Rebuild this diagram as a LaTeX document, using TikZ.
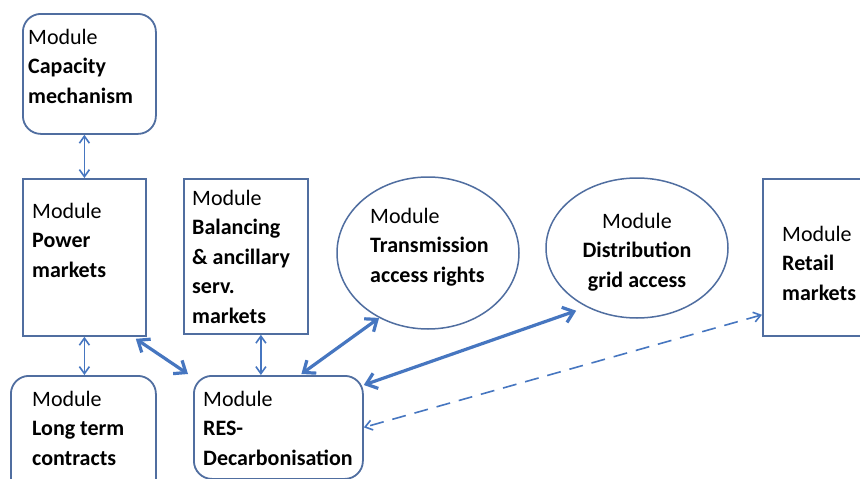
\documentclass[tikz,border=0pt]{standalone}
\usepackage{fontspec}
\setmainfont{Carlito}
\usetikzlibrary{arrows.meta,shapes.geometric}
\definecolor{edgeblue}{RGB}{80,110,160}
\definecolor{linkblue}{RGB}{70,118,192}
\tikzset{
  modbox/.style={draw=edgeblue, line width=1.8pt, fill=white, anchor=north west, inner sep=0pt},
  roundbox/.style={modbox, rounded corners=18pt},
  modoval/.style={draw=edgeblue, line width=1.5pt, ellipse, inner sep=0pt},
  lbl/.style={anchor=north west, align=left, inner sep=0pt, font=\fontsize{22}{29.5}\selectfont},
  clbl/.style={lbl, anchor=north, align=center},
  thinlink/.style={draw=linkblue, line width=1.6pt, {Straight Barb[length=7pt,width=10pt]}-{Straight Barb[length=7pt,width=10pt]}},
  thicklink/.style={draw=linkblue, line width=3.2pt, {Straight Barb[length=10pt,width=16pt]}-{Straight Barb[length=10pt,width=16pt]}},
  dashlink/.style={draw=linkblue, line width=1.6pt, dash pattern=on 14pt off 9pt, {Straight Barb[length=7pt,width=10pt]}-{Straight Barb[length=7pt,width=10pt]}},
}
\begin{document}
\begin{tikzpicture}[x=1pt,y=-1pt]
  \useasboundingbox (0,0) rectangle (860,479);
  \fill[white] (0,0) rectangle (860,479);
  \clip (0,0) rectangle (860,479);

  % module shapes
  \node[roundbox, minimum width=133pt, minimum height=120pt] (cap) at (22,13) {};
  \node[modbox, minimum width=123pt, minimum height=157pt] (pow) at (22,178) {};
  \node[modbox, minimum width=124pt, minimum height=155pt] (bal) at (183,178) {};
  \node[modoval, minimum width=182pt, minimum height=152pt] (tra) at (428,253) {};
  \node[modoval, minimum width=182pt, minimum height=140pt] (dis) at (637,248) {};
  \node[modbox, minimum width=130pt, minimum height=157pt] (ret) at (762,178) {};
  \node[roundbox, minimum width=145pt, minimum height=125pt] (ltc) at (10,375) {};
  \node[roundbox, minimum width=169pt, minimum height=103pt] (res) at (193,375) {};

  % module labels
  \node[lbl] (capt) at (28,29) {Module\\\textbf{Capacity}\\\textbf{mechanism}};
  \node[lbl] (powt) at (32,203) {Module\\\textbf{Power}\\\textbf{markets}};
  \node[lbl] (balt) at (192,190) {Module\\\textbf{Balancing}\\\textbf{\& ancillary}\\\textbf{serv.}\\\textbf{markets}};
  \node[lbl] (trat) at (370,208) {Module\\\textbf{Transmission}\\\textbf{access rights}};
  \node[clbl] (dist) at (637,213) {Module\\\textbf{Distribution}\\\textbf{grid access}};
  \node[lbl] (rett) at (782,226) {Module\\\textbf{Retail}\\\textbf{markets}};
  \node[lbl] (ltct) at (32,391) {Module\\\textbf{Long term}\\\textbf{contracts}};
  \node[lbl] (rest) at (203,391) {Module\\\textbf{RES-}\\\textbf{Decarbonisation}};

  % links between modules
  \draw[thinlink] (pow.north |- cap.south) -- (pow.north);
  \draw[thinlink] (pow.south) -- (pow.south |- ltc.north);
  \draw[thinlink] ([xshift=15pt]bal.south) -- ([xshift=15pt]bal.south |- res.north);
  \draw[thicklink] ([xshift=-11pt,yshift=-2pt]pow.south east) -- ([xshift=-5pt,yshift=1pt]res.north west);
  \draw[thicklink] (tra.233) -- ([xshift=23pt,yshift=1pt]res.north);
  \draw[thicklink] ([xshift=-6pt,yshift=-6pt]dis.226) -- ([yshift=-10pt]res.north east);
  \draw[dashlink] ([yshift=22pt]ret.south west) -- (res.east);
\end{tikzpicture}
\end{document}
